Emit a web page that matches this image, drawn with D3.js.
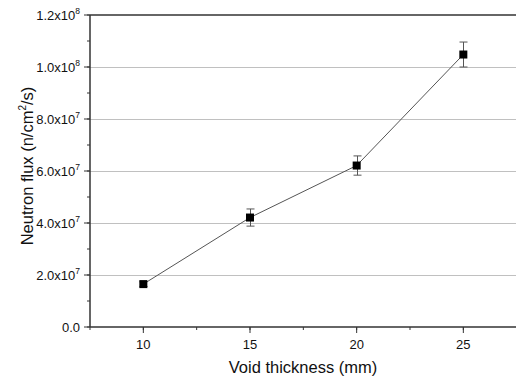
<!DOCTYPE html>
<html>
<head>
<meta charset="utf-8">
<script src="https://cdn.jsdelivr.net/npm/d3@7.9.0/dist/d3.min.js"></script>
<style>
  html, body { margin: 0; padding: 0; background: #fff; }
  svg { display: block; font-family: "Liberation Sans", Arial, sans-serif; }
</style>
</head>
<body>
<svg id="chart" width="516" height="383"></svg>
<script>
// data
const thickness = [10, 15, 20, 25];
const flux = [1.65e7, 4.21e7, 6.21e7, 1.048e8];
const fluxErr = [0.9e6, 3.3e6, 3.7e6, 4.8e6];
const yTicks = [0, 2e7, 4e7, 6e7, 8e7, 1e8, 1.2e8];
const xTicks = [10, 15, 20, 25];

const svg = d3.select('#chart');
const plotLeft = 90, plotTop = 15, plotBottom = 327;

const x = d3.scaleLinear().domain([7.5, 27.5]).range([plotLeft, 516.67]);
const y = d3.scaleLinear().domain([0, 1.2e8]).range([plotBottom, plotTop]);

// gridlines
svg.append('g')
  .selectAll('line')
  .data(yTicks.filter(d => d > 0 && d < 1.2e8))
  .join('line')
  .attr('x1', plotLeft).attr('x2', 516)
  .attr('y1', d => y(d) + 0.5).attr('y2', d => y(d) + 0.5)
  .attr('stroke', '#c0c0c0').attr('stroke-width', 1);

// top frame
svg.append('line')
  .attr('x1', plotLeft).attr('x2', 516)
  .attr('y1', plotTop).attr('y2', plotTop)
  .attr('stroke', '#333').attr('stroke-width', 1.5);

// x axis
const xAxis = svg.append('g').attr('transform', `translate(0,${plotBottom})`);
xAxis.append('line').attr('x1', plotLeft).attr('x2', 516).attr('stroke', '#333').attr('stroke-width', 1.5);
const xMinor = d3.range(7.5, 27.6, 2.5);
xAxis.selectAll('.minor').data(xMinor).join('line')
  .attr('x1', d => x(d)).attr('x2', d => x(d))
  .attr('y1', 0).attr('y2', 3).attr('stroke', '#333');
xAxis.selectAll('.major').data(xTicks).join('line')
  .attr('x1', d => x(d)).attr('x2', d => x(d))
  .attr('y1', 0).attr('y2', 6).attr('stroke', '#333');
xAxis.selectAll('text').data(xTicks).join('text')
  .attr('x', d => x(d)).attr('y', 22)
  .attr('text-anchor', 'middle').attr('font-size', 13).attr('fill', '#111')
  .text(d => d);

// y axis
const yAxis = svg.append('g').attr('transform', `translate(${plotLeft},0)`);
yAxis.append('line').attr('y1', plotTop).attr('y2', plotBottom).attr('stroke', '#333').attr('stroke-width', 1.5);
const yMinor = d3.range(0, 1.21e8, 1e7);
yAxis.selectAll('.minor').data(yMinor).join('line')
  .attr('y1', d => y(d)).attr('y2', d => y(d))
  .attr('x1', 0).attr('x2', -3).attr('stroke', '#333');
yAxis.selectAll('.major').data(yTicks).join('line')
  .attr('y1', d => y(d)).attr('y2', d => y(d))
  .attr('x1', 0).attr('x2', -6).attr('stroke', '#333');

const yLab = yAxis.selectAll('text').data(yTicks).join('text')
  .attr('x', -10).attr('y', d => y(d) + 4.5)
  .attr('text-anchor', 'end').attr('font-size', 13).attr('fill', '#111');
yLab.each(function(d) {
  const t = d3.select(this);
  if (d === 0) { t.text('0.0'); return; }
  const exp = Math.floor(Math.log10(d));
  const mant = (d / Math.pow(10, exp)).toFixed(1);
  t.append('tspan').text(mant + 'x10');
  t.append('tspan').attr('dy', -6).attr('font-size', 8.5).text(exp);
});

// connecting line
const line = d3.line().x((d, i) => x(thickness[i])).y(d => y(d));
svg.append('path')
  .datum(flux)
  .attr('d', line)
  .attr('fill', 'none').attr('stroke', '#555').attr('stroke-width', 1);

// error bars
const eb = svg.append('g').attr('stroke', '#555').attr('stroke-width', 1);
flux.forEach((v, i) => {
  const cx = Math.round(x(thickness[i])) + 0.5;
  const y0 = y(v - fluxErr[i]), y1 = y(v + fluxErr[i]);
  eb.append('line').attr('x1', cx).attr('x2', cx).attr('y1', y0).attr('y2', y1);
  eb.append('line').attr('x1', cx - 4).attr('x2', cx + 4).attr('y1', y0).attr('y2', y0);
  eb.append('line').attr('x1', cx - 4).attr('x2', cx + 4).attr('y1', y1).attr('y2', y1);
});

// markers
svg.append('g').selectAll('rect').data(flux).join('rect')
  .attr('x', (d, i) => x(thickness[i]) - 4)
  .attr('y', d => y(d) - 4)
  .attr('width', 8).attr('height', 8)
  .attr('fill', '#000');

// axis titles
svg.append('text')
  .attr('x', 303).attr('y', 373)
  .attr('text-anchor', 'middle').attr('font-size', 16.5).attr('fill', '#111')
  .text('Void thickness (mm)');

const yt = svg.append('text')
  .attr('transform', 'translate(33,166) rotate(-90)')
  .attr('text-anchor', 'middle').attr('font-size', 16.5).attr('fill', '#111');
yt.append('tspan').text('Neutron flux (n/cm');
yt.append('tspan').attr('dy', -7).attr('font-size', 10).text('2');
yt.append('tspan').attr('dy', 7).text('/s)');
</script>
</body>
</html>
